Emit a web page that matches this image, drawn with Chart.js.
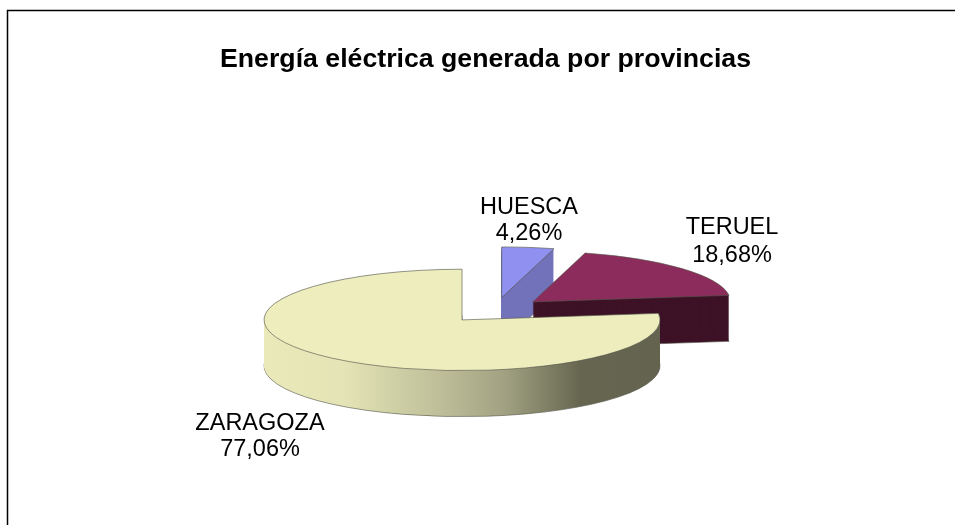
<!DOCTYPE html>
<html><head><meta charset="utf-8">
<style>html,body{margin:0;padding:0;background:#fff;overflow:hidden}#c{display:block}</style>
<script src="https://cdn.jsdelivr.net/npm/chart.js@4"></script>
</head><body>
<div style="width:955px;height:525px"><canvas id="c" width="955" height="525"></canvas></div>
<script>
const titleText = 'Energía eléctrica generada por provincias';
const provinces = ['HUESCA', 'TERUEL', 'ZARAGOZA'];
const shares = [4.26, 18.68, 77.06];
const shareLabels = ['4,26%', '18,68%', '77,06%'];
const topColors = ['#9090F0', '#8C2C5C', '#EDEDBE'];
const wallColors = ['#7272BA', '#3E1226', '#666650'];
const labelCentres = [[529, 208, 234], [732, 228, 256], [260, 424, 450]];

const PIE_X = 495, PIE_Y = 310.3, RADIUS = 198, SQUASH = 0.256, DEPTH = 46, EXPLODE = 50;

function withArc(ctx, arc, drop, opts) {
  const mid = (arc.startAngle + arc.endAngle) / 2;
  const saved = arc.options;
  arc.options = Object.assign({}, saved, opts);
  ctx.save();
  ctx.translate(PIE_X, PIE_Y + drop);
  ctx.scale(1, SQUASH);
  ctx.translate(Math.cos(mid) * EXPLODE - arc.x, Math.sin(mid) * EXPLODE - arc.y);
  arc.draw(ctx);
  ctx.restore();
  arc.options = saved;
}

function wallFill(ctx, arc, i) {
  if (i !== 2) return wallColors[i];
  const mid = (arc.startAngle + arc.endAngle) / 2;
  const shift = arc.x - PIE_X - Math.cos(mid) * EXPLODE; // canvas x -> arc-local x
  const g = ctx.createLinearGradient(264 + shift, 0, 660 + shift, 0);
  g.addColorStop(0, '#E9E9BA');
  g.addColorStop(0.2, '#E4E4B6');
  g.addColorStop(0.45, '#BDBD98');
  g.addColorStop(0.6, '#A3A384');
  g.addColorStop(0.8, '#666650');
  g.addColorStop(1, '#636350');
  return g;
}

const pie3d = {
  id: 'pie3d',
  beforeDraw(chart) {
    const ctx = chart.ctx;
    ctx.save();
    ctx.fillStyle = '#fff';
    ctx.fillRect(0, 0, chart.width, chart.height);
    ctx.strokeStyle = '#000';
    ctx.lineWidth = 1.5;
    ctx.beginPath();
    ctx.moveTo(7.5, 525);
    ctx.lineTo(7.5, 10.5);
    ctx.lineTo(955, 10.5);
    ctx.stroke();
    ctx.restore();
  },
  beforeDatasetsDraw(chart) {
    const ctx = chart.ctx;
    const arcs = chart.getDatasetMeta(0).data;
    arcs.forEach((arc, i) => {
      const fill = wallFill(ctx, arc, i);
      withArc(ctx, arc, DEPTH, { backgroundColor: fill, borderColor: '#55554a', borderWidth: 1 });
      for (let d = DEPTH - 1; d > 0; d--) {
        withArc(ctx, arc, d, { backgroundColor: fill, borderWidth: 0 });
      }
      withArc(ctx, arc, 0, { backgroundColor: topColors[i], borderColor: '#55554a', borderWidth: 1 });
    });
    return false;
  },
  afterDraw(chart) {
    const ctx = chart.ctx;
    ctx.save();
    ctx.font = '23.5px "Liberation Sans"';
    ctx.fillStyle = '#000';
    ctx.textAlign = 'center';
    ctx.textBaseline = 'middle';
    provinces.forEach((name, i) => {
      const [x, y1, y2] = labelCentres[i];
      ctx.fillText(name, x, y1);
      ctx.fillText(shareLabels[i], x, y2);
    });
    ctx.restore();
  }
};

new Chart(document.getElementById('c'), {
  type: 'pie',
  data: { labels: provinces, datasets: [{ data: shares, backgroundColor: topColors, borderWidth: 0 }] },
  options: {
    responsive: false,
    animation: false,
    radius: RADIUS,
    layout: { padding: { left: 16, top: 34 } },
    plugins: {
      legend: { display: false },
      tooltip: { enabled: false },
      title: {
        display: true,
        text: titleText,
        color: '#000',
        font: { family: '"Liberation Sans"', size: 26.7, weight: 'bold' },
        padding: 10
      }
    }
  },
  plugins: [pie3d]
});
</script>
</body></html>
